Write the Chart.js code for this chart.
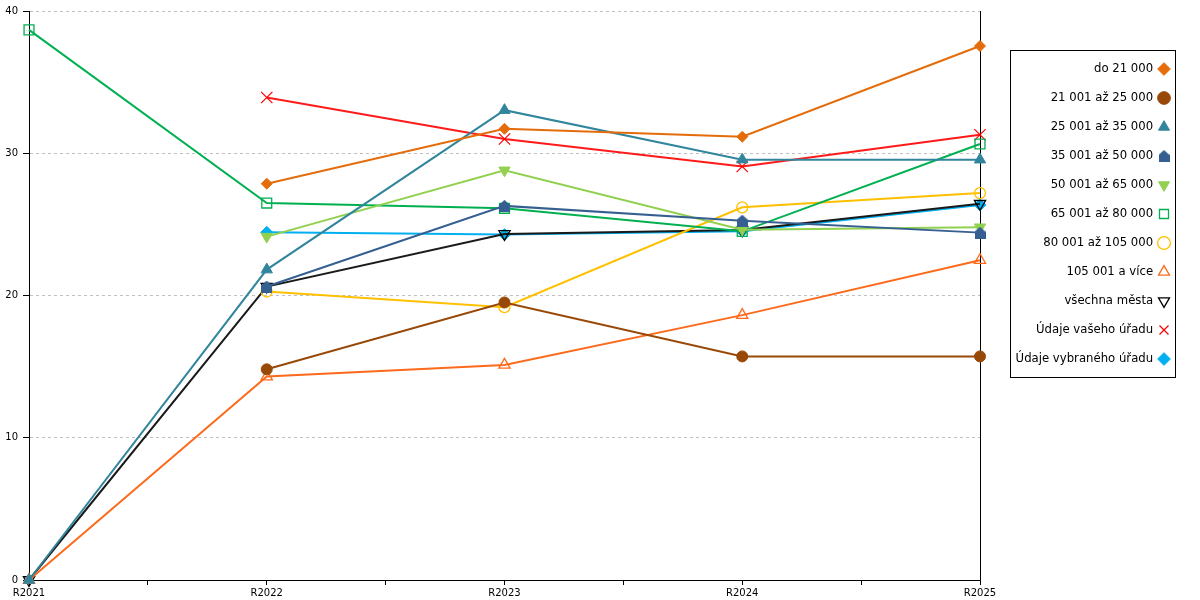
<!DOCTYPE html>
<html>
<head>
<meta charset="utf-8">
<script src="https://cdn.jsdelivr.net/npm/chart.js@4.4.1/dist/chart.umd.min.js"></script>
<style>
  html, body { margin: 0; padding: 0; background: #ffffff; }
  #wrap { width: 1200px; height: 600px; position: relative; }
</style>
</head>
<body>
<div id="wrap"><canvas id="c" width="1200" height="600"></canvas></div>
<script>
// ---- data ----
const categories = ['R2021', 'R2022', 'R2023', 'R2024', 'R2025'];
const seriesNames = [
  'do 21 000', '21 001 až 25 000', '25 001 až 35 000', '35 001 až 50 000',
  '50 001 až 65 000', '65 001 až 80 000', '80 001 až 105 000', '105 001 a více',
  'všechna města', 'Údaje vašeho úřadu', 'Údaje vybraného úřadu'
];
const do21000      = [null, 27.86, 31.72, 31.16, 37.54];
const s21001_25000 = [null, 14.81, 19.51, 15.72, 15.72];
const s25001_35000 = [0, 21.82, 33.03, 29.55, 29.55];
const s35001_50000 = [null, 20.63, 26.3, 25.26, 24.42];
const s50001_65000 = [null, 24.14, 28.8, 24.63, 24.8];
const s65001_80000 = [38.67, 26.5, 26.13, 24.51, 30.65];
const s80001_105000 = [null, 20.28, 19.18, 26.2, 27.2];
const s105001      = [0, 14.3, 15.12, 18.62, 22.48];
const vsechnaMesta = [0, 20.63, 24.33, 24.6, 26.45];
const vasUrad      = [null, 33.92, 31.0, 29.07, 31.3];
const vybranyUrad  = [null, 24.44, 24.28, 24.51, 26.37];
const yTicks = [0, 10, 20, 30, 40];

// ---- styles ----
function makeHouse(color) {
  const c = document.createElement('canvas');
  c.width = 11; c.height = 12;
  const g = c.getContext('2d');
  g.fillStyle = color;
  g.beginPath();
  g.moveTo(5.5, 0); g.lineTo(11, 5); g.lineTo(11, 12); g.lineTo(0, 12); g.lineTo(0, 5);
  g.closePath(); g.fill();
  return c;
}
const houseImg = makeHouse('#365f91');

const styles = [
  { line: '#e46c0a', fill: '#e46c0a', stroke: '#e46c0a', style: 'rectRot', r: 5.5, bw: 1, rot: 0 },
  { line: '#984807', fill: '#984807', stroke: '#984807', style: 'circle', r: 5.5, bw: 1, rot: 0 },
  { line: '#31859c', fill: '#31859c', stroke: '#31859c', style: 'triangle', r: 6.5, bw: 1, rot: 0 },
  { line: '#365f91', fill: '#365f91', stroke: '#365f91', style: houseImg, r: 6, bw: 1, rot: 0 },
  { line: '#92d050', fill: '#92d050', stroke: '#92d050', style: 'triangle', r: 6.5, bw: 1, rot: 180 },
  { line: '#00b050', fill: 'rgba(255,255,255,0)', stroke: '#00b050', style: 'rect', r: 7, bw: 1.3, rot: 0 },
  { line: '#ffc000', fill: 'rgba(255,255,255,0)', stroke: '#ffc000', style: 'circle', r: 5.5, bw: 1.3, rot: 0 },
  { line: '#fd6a1c', fill: 'rgba(255,255,255,0)', stroke: '#fd6a1c', style: 'triangle', r: 6.5, bw: 1.3, rot: 0 },
  { line: '#1a1a1a', fill: 'rgba(255,255,255,0)', stroke: '#000000', style: 'triangle', r: 6.5, bw: 1.3, rot: 180 },
  { line: '#ff1a1a', fill: 'rgba(255,255,255,0)', stroke: '#ff0000', style: 'crossRot', r: 8, bw: 1.2, rot: 0 },
  { line: '#00b0f0', fill: '#00b0f0', stroke: '#00b0f0', style: 'rectRot', r: 6, bw: 1, rot: 0 }
];
const seriesValues = [do21000, s21001_25000, s25001_35000, s35001_50000, s50001_65000,
  s65001_80000, s80001_105000, s105001, vsechnaMesta, vasUrad, vybranyUrad];

const datasets = seriesValues.map((vals, i) => ({
  label: seriesNames[i],
  data: vals.map((v, k) => ({ x: k, y: v })),
  borderColor: styles[i].line,
  borderWidth: 2,
  backgroundColor: styles[i].fill,
  pointStyle: styles[i].style,
  pointRadius: styles[i].r,
  pointHoverRadius: styles[i].r,
  pointRotation: styles[i].rot,
  pointBackgroundColor: styles[i].fill,
  pointBorderColor: styles[i].stroke,
  pointBorderWidth: styles[i].bw,
  tension: 0,
  fill: false,
  clip: false
}));

const FONT = 'DejaVu Sans';
const CHART_RIGHT = 980;

const legendPlacer = {
  id: 'legendPlacer',
  afterLayout(chart) {
    const lg = chart.legend;
    if (!lg) return;
    const w = lg.width;
    lg.right = 1186.3;
    lg.left = lg.right - w;
    lg.top = 45.85;
    lg.bottom = 600;
    lg.height = lg.bottom - lg.top;
  },
  afterDraw(chart) {
    const ctx = chart.ctx;
    ctx.save();
    ctx.strokeStyle = '#000000';
    ctx.lineWidth = 1;
    ctx.strokeRect(1010.5, 50.5, 165, 327);
    ctx.restore();
  }
};

new Chart(document.getElementById('c'), {
  type: 'line',
  data: { datasets },
  plugins: [legendPlacer],
  options: {
    responsive: false,
    animation: false,
    events: [],
    layout: { padding: { top: 11, left: 0, right: 0, bottom: 0 } },
    plugins: {
      tooltip: { enabled: false },
      legend: {
        display: true,
        position: 'right',
        align: 'start',
        rtl: true,
        textDirection: 'ltr',
        labels: {
          usePointStyle: true,
          boxWidth: 10,
          boxHeight: 9,
          padding: 17.3,
          color: '#000000',
          font: { family: FONT, size: 11.7 }
        }
      }
    },
    scales: {
      x: {
        type: 'linear',
        min: 0,
        max: categories.length - 1,
        afterFit(scale) { scale.height = 20; },
        ticks: {
          stepSize: 0.5,
          autoSkip: false,
          maxRotation: 0,
          padding: 2,
          color: '#000000',
          font: { family: FONT, size: 10 },
          callback: (v) => Number.isInteger(v) ? categories[v] : ''
        },
        grid: {
          display: true,
          drawOnChartArea: false,
          drawTicks: true,
          tickLength: 5,
          tickColor: '#000000',
          color: '#000000'
        },
        border: { display: true, color: '#000000', width: 1 }
      },
      y: {
        type: 'linear',
        position: 'left',
        min: yTicks[0],
        max: yTicks[yTicks.length - 1],
        afterFit(scale) { scale.width = 29; },
        afterBuildTicks(scale) { scale.ticks = yTicks.map(v => ({ value: v })); },
        ticks: {
          padding: 5,
          color: '#000000',
          font: { family: FONT, size: 10 }
        },
        grid: {
          display: true,
          drawOnChartArea: true,
          drawTicks: true,
          tickLength: 6,
          color: '#c0c0c0',
          tickColor: '#000000',
          tickBorderDash: []
        },
        border: { display: true, color: '#000000', width: 1, dash: [3, 3] }
      },
      y2: {
        type: 'linear',
        position: 'right',
        min: 0,
        max: 40,
        afterFit(scale) {
          const lg = scale.chart.legend;
          const lw = (lg && lg.width) ? lg.width : 0;
          scale.width = Math.max(0, 1200 - CHART_RIGHT - lw);
        },
        ticks: { display: false },
        grid: { display: true, drawOnChartArea: false, drawTicks: false },
        border: { display: true, color: '#000000', width: 1 }
      }
    }
  }
});
</script>
</body>
</html>
